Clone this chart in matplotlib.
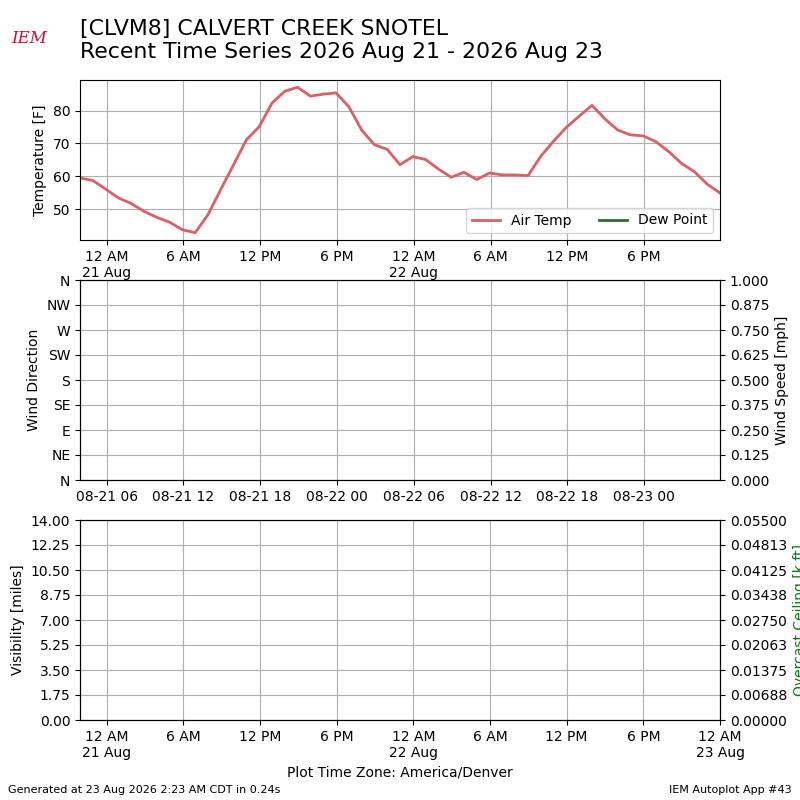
import datetime
import numpy as np
import pandas as pd
import matplotlib
matplotlib.use("Agg")
import matplotlib.pyplot as plt
import matplotlib.dates as mdates
from matplotlib.ticker import FuncFormatter

# data, hourly obs (local time America/Denver, MDT = UTC-6)
MDT = datetime.timezone(datetime.timedelta(hours=-6), "MDT")
UTC = datetime.timezone.utc
times = pd.date_range(datetime.datetime(2026, 8, 20, 21, 55, tzinfo=MDT), periods=51, freq="h")
air_temp = [59.5, 58.7, 56.1, 53.4, 51.7, 49.3, 47.5, 46.0, 43.7, 42.8,
            48.3, 56.0, 63.5, 71.1, 75.1, 82.3, 85.9, 87.1, 84.4, 85.0,
            85.4, 81.2, 74.1, 69.6, 68.2, 63.5, 66.0, 65.1, 62.2, 59.7,
            61.2, 59.0, 61.0, 60.4, 60.4, 60.2, 66.1, 70.7, 74.9, 78.3,
            81.6, 77.5, 74.1, 72.6, 72.3, 70.5, 67.5, 63.9, 61.4, 57.6,
            54.9]
dew_point = []
dir_labels = ["N", "NE", "E", "SE", "S", "SW", "W", "NW", "N"]
plot_end = datetime.datetime(2026, 8, 23, 0, 0, tzinfo=MDT)

temp_color = "#dc5f65"
dwpt_color = "#2f6b30"


def local_fmt(x, pos=None):
    d = mdates.num2date(x, tz=MDT)
    s = d.strftime("%I %p").lstrip("0")
    if d.hour == 0:
        s += "\n" + d.strftime("%d %b")
    return s


fig = plt.figure(figsize=(8, 8), dpi=100)

# temperature panel
ax1 = fig.add_axes([0.1, 0.7, 0.8, 0.2])
ax1.plot(times, air_temp, color=temp_color, lw=2, label="Air Temp")
ax1.plot(times[:len(dew_point)], dew_point, color=dwpt_color, lw=2, label="Dew Point")
ax1.set_xlim(times[0], times[-1])
ax1.set_yticks([50, 60, 70, 80])
ax1.set_ylabel("Temperature [F]")
ax1.xaxis.set_major_locator(mdates.HourLocator(byhour=[0, 6, 12, 18], tz=MDT))
ax1.xaxis.set_major_formatter(FuncFormatter(local_fmt))
ax1.grid(True)
ax1.legend(loc="lower right", ncol=2)

# wind panel
ax2 = fig.add_axes([0.1, 0.4, 0.8, 0.25])
ax2.set_xlim(times[0], times[-1])
ax2.set_ylim(0, 360)
ax2.set_yticks(np.arange(0, 361, 45))
ax2.set_yticklabels(dir_labels)
ax2.set_ylabel("Wind Direction")
ax2.xaxis.set_major_locator(mdates.HourLocator(byhour=[0, 6, 12, 18], tz=UTC))
ax2.xaxis.set_major_formatter(mdates.DateFormatter("%m-%d %H", tz=UTC))
ax2.grid(True)
ax2b = ax2.twinx()
ax2b.set_ylim(0, 1)
ax2b.set_yticks(np.linspace(0, 1, 9))
ax2b.yaxis.set_major_formatter(FuncFormatter(lambda v, p: "%.3f" % v))
ax2b.set_ylabel("Wind Speed [mph]")

# visibility panel
ax3 = fig.add_axes([0.1, 0.1, 0.8, 0.25])
ax3.set_xlim(times[0], plot_end)
ax3.set_ylim(0, 14)
ax3.set_yticks(np.linspace(0, 14, 9))
ax3.yaxis.set_major_formatter(FuncFormatter(lambda v, p: "%.2f" % v))
ax3.set_ylabel("Visibility [miles]")
ax3.xaxis.set_major_locator(mdates.HourLocator(byhour=[0, 6, 12, 18], tz=MDT))
ax3.xaxis.set_major_formatter(FuncFormatter(local_fmt))
ax3.set_xlabel("Plot Time Zone: America/Denver")
ax3.grid(True)
ax3b = ax3.twinx()
ax3b.set_ylim(0, 0.055)
ax3b.set_yticks(np.linspace(0, 0.055, 9))
ax3b.yaxis.set_major_formatter(FuncFormatter(lambda v, p: "%.5f" % v))
ax3b.set_ylabel("Overcast Ceiling [k ft]", color="green")

# titles / logo / footer
fig.text(0.1, 0.976, "[CLVM8] CALVERT CREEK SNOTEL\nRecent Time Series 2026 Aug 21 - 2026 Aug 23",
         fontsize=15.8, va="top", ha="left")
fig.text(0.037, 0.952, "IEM", color="#c8102e", fontsize=12, family="serif",
         style="italic", ha="center", va="center")
fig.text(0.01, 0.0125, "Generated at 23 Aug 2026 2:23 AM CDT in 0.24s", fontsize=8,
         ha="left", va="center")
fig.text(0.99, 0.0125, "IEM Autoplot App #43", fontsize=8, ha="right", va="center")

fig.savefig("out.png")
